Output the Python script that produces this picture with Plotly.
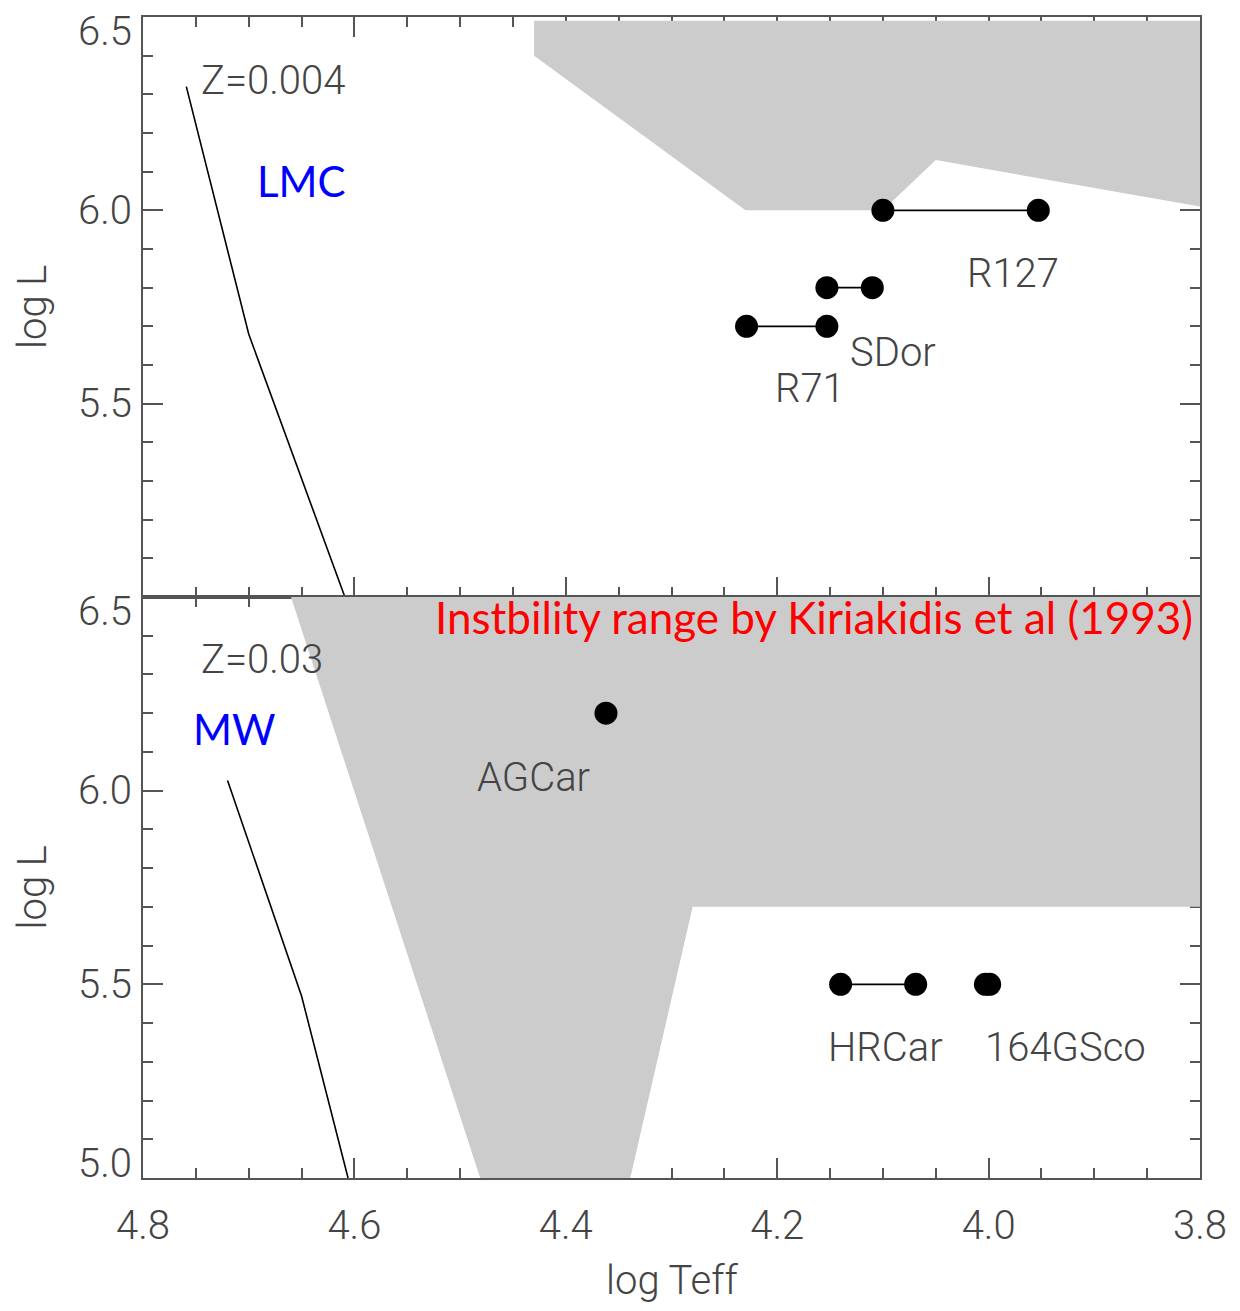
import plotly.graph_objects as go

# --- data -------------------------------------------------------------
# LMC (Z=0.004) panel
lmc_track_teff = [4.759, 4.70, 4.609]
lmc_track_logl = [6.32, 5.68, 5.0]
lmc_zone_teff = [4.43, 4.43, 4.23, 4.10, 4.05, 3.80, 3.80]
lmc_zone_logl = [6.49, 6.40, 6.00, 6.00, 6.13, 6.01, 6.49]
lmc_stars = ["R127", "SDor", "R71"]
lmc_star_teff = [[4.10, 3.953], [4.153, 4.11], [4.229, 4.153]]
lmc_star_logl = [[6.00, 6.00], [5.80, 5.80], [5.70, 5.70]]
lmc_label_teff = [3.977, 4.090, 4.169]
lmc_label_logl = [5.837, 5.632, 5.539]

# MW (Z=0.03) panel
mw_track_teff = [4.72, 4.65, 4.606]
mw_track_logl = [6.026, 5.47, 5.0]
mw_zone_teff = [4.66, 4.481, 4.339, 4.28, 3.80, 3.80]
mw_zone_logl = [6.50, 5.00, 5.00, 5.70, 5.70, 6.50]
mw_stars = ["AGCar", "HRCar", "164GSco"]
mw_star_teff = [[4.362], [4.14, 4.069], [4.003, 3.999]]
mw_star_logl = [[6.20], [5.50, 5.50], [5.50, 5.50]]
mw_label_teff = [4.431, 4.098, 3.927]
mw_label_logl = [6.033, 5.338, 5.338]

# axis ticks
teff_ticks = [4.8, 4.6, 4.4, 4.2, 4.0, 3.8]
lmc_logl_ticks = [6.5, 6.0, 5.5]
mw_logl_ticks = [6.5, 6.0, 5.5, 5.0]

# --- styling ----------------------------------------------------------
TXT = "#444444"
AX = "#555555"
FONT = "Roboto"
ZONE = "#cccccc"


def lab_font(size=40):
    return dict(family=FONT, size=size, color=TXT, weight=300)


fig = go.Figure()

panels = [
    ("x", "y", lmc_zone_teff, lmc_zone_logl, lmc_track_teff, lmc_track_logl,
     lmc_star_teff, lmc_star_logl),
    ("x2", "y2", mw_zone_teff, mw_zone_logl, mw_track_teff, mw_track_logl,
     mw_star_teff, mw_star_logl),
]
for xa, ya, zt, zl, tt, tl, st, sl in panels:
    fig.add_trace(go.Scatter(x=zt, y=zl, fill="toself", fillcolor=ZONE,
                             mode="lines", line=dict(width=0, color=ZONE),
                             xaxis=xa, yaxis=ya, hoverinfo="skip"))
    fig.add_trace(go.Scatter(x=tt, y=tl, mode="lines",
                             line=dict(color="black", width=1.6),
                             xaxis=xa, yaxis=ya))
    for t, l in zip(st, sl):
        fig.add_trace(go.Scatter(x=t, y=l, mode="lines+markers",
                                 line=dict(color="black", width=1.6),
                                 marker=dict(color="black", size=23),
                                 xaxis=xa, yaxis=ya))

split = (1178 - 597) / 1161

axis_common = dict(
    showline=True, linecolor=AX, linewidth=2, mirror="allticks",
    ticks="inside", ticklen=20, tickwidth=2, tickcolor=AX,
    showgrid=False, zeroline=False, layer="below traces",
)
xcommon = dict(axis_common, range=[4.8, 3.8], tickvals=teff_ticks,
               minor=dict(dtick=0.05, ticklen=10, tickwidth=2,
                          tickcolor=AX, ticks="inside", showgrid=False))
ycommon = dict(axis_common, range=[5.0, 6.5], dtick=0.5, tick0=5.0,
               showticklabels=False,
               minor=dict(dtick=0.1, ticklen=10, tickwidth=2,
                          tickcolor=AX, ticks="inside", showgrid=False))

fig.update_layout(
    width=1240, height=1311,
    margin=dict(l=143, r=40, t=17, b=133),
    paper_bgcolor="white", plot_bgcolor="white",
    showlegend=False,
    xaxis=dict(xcommon, anchor="y", showticklabels=False),
    yaxis=dict(ycommon, domain=[split, 1], anchor="x"),
    xaxis2=dict(xcommon, anchor="y2", tickformat=".1f",
                tickfont=lab_font(), ticklabelstandoff=11),
    yaxis2=dict(ycommon, domain=[0, split], anchor="x2"),
)

ann = []
# y tick labels (end labels kept inside the panel)
for ya, xd, vals in (("y", "x domain", lmc_logl_ticks),
                     ("y2", "x2 domain", mw_logl_ticks)):
    for v in vals:
        shift = -14 if v == 6.5 else (15 if v == 5.0 else 0)
        ann.append(dict(x=0, xref=xd, y=v, yref=ya, text=f"{v:.1f}",
                        showarrow=False, xanchor="right", yanchor="middle",
                        xshift=-9, yshift=shift, font=lab_font()))

# axis titles
for yd in ("y domain", "y2 domain"):
    ann.append(dict(x=0, xref="x domain", xshift=-111, xanchor="center",
                    y=0.5, yref=yd, text="log L", textangle=-90,
                    showarrow=False, font=lab_font()))
ann.append(dict(x=0.5, xref="x2 domain", y=0, yref="paper", yshift=-102,
                text="log Teff", showarrow=False, yanchor="middle",
                font=lab_font()))

# star names
for names, lt, ll, xa, ya in ((lmc_stars, lmc_label_teff, lmc_label_logl, "x", "y"),
                              (mw_stars, mw_label_teff, mw_label_logl, "x2", "y2")):
    for n, t, l in zip(names, lt, ll):
        ann.append(dict(x=t, y=l, xref=xa, yref=ya, text=n, showarrow=False,
                        font=lab_font()))

# metallicity labels
ann.append(dict(x=4.677, y=6.337, xref="x", yref="y", text="Z=0.004",
                showarrow=False, font=lab_font()))
ann.append(dict(x=4.687, y=6.338, xref="x2", yref="y2", text="Z=0.03",
                showarrow=False, font=lab_font()))

# galaxy labels
ann.append(dict(x=4.65, y=6.075, xref="x", yref="y", text="LMC",
                showarrow=False,
                font=dict(family="Lato", size=42, color="#0000ff")))
ann.append(dict(x=4.713, y=6.16, xref="x2", yref="y2", text="MW",
                showarrow=False,
                font=dict(family="Lato", size=42, color="#0000ff")))

# instability range note
ann.append(dict(x=4.165, y=6.448, xref="x2", yref="y2",
                text="Instbility range by Kiriakidis et al (1993)",
                showarrow=False,
                font=dict(family="Lato", size=44, color="#ff0000")))

fig.update_layout(annotations=ann)

fig.write_html("out.html")
